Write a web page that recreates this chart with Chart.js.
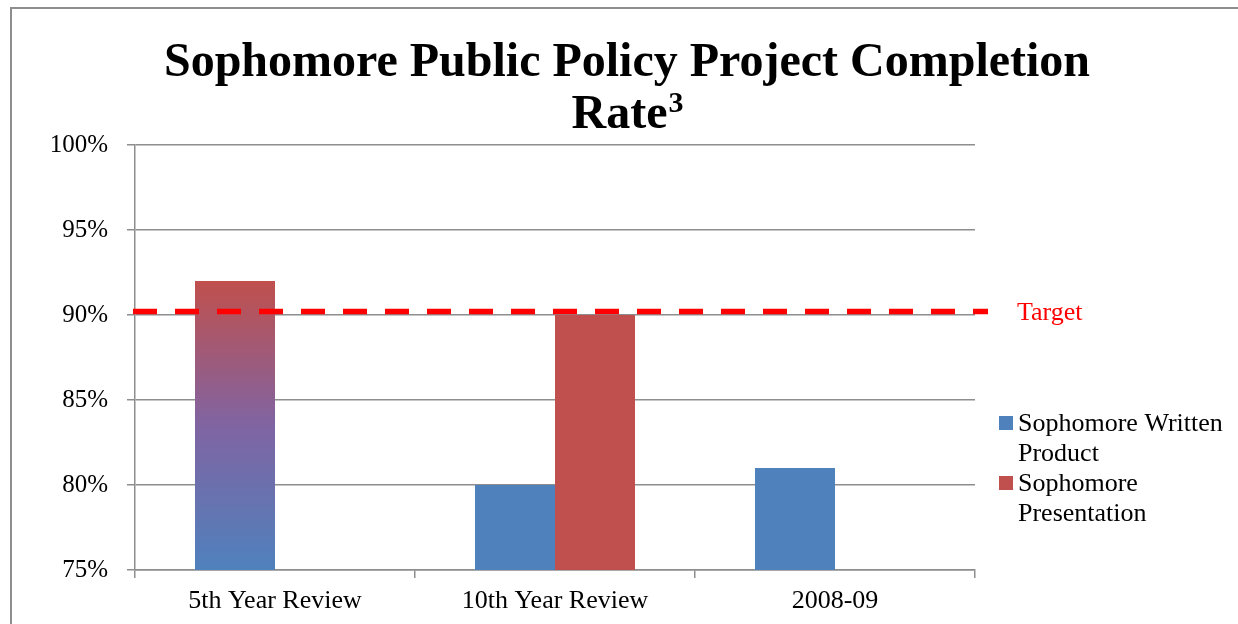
<!DOCTYPE html>
<html>
<head>
<meta charset="utf-8">
<title>Sophomore Public Policy Project Completion Rate</title>
<script src="https://cdn.jsdelivr.net/npm/chart.js@4.4.0/dist/chart.umd.min.js"></script>
<style>
  html, body { margin: 0; padding: 0; background: #ffffff; }
  #chart { display: block; }
</style>
</head>
<body>
<canvas id="chart" width="1238" height="624"></canvas>
<script>
// values
const categories = ['5th Year Review', '10th Year Review', '2008-09'];
const writtenProduct = [92, 80, 81];
const presentation = [null, 90, null];
const target = [90.2];
const seriesNames = ['Sophomore Written Product', 'Sophomore Presentation'];
const legendLines = [['Sophomore Written', 'Product'], ['Sophomore', 'Presentation']];

const BLUE = '#4f81bd';
const RED = '#c0504d';
const GRID = '#8e8e8e';
const FONT = "'Liberation Serif', 'Times New Roman', serif";

// first bar has a red -> purple -> blue fade
const barFill = (ctx) => {
  const chart = ctx.chart;
  if (ctx.dataIndex !== 0 || !chart.chartArea) return BLUE;
  const y = chart.scales.y;
  const top = y.getPixelForValue(writtenProduct[0]);
  const g = chart.ctx.createLinearGradient(0, top, 0, chart.chartArea.bottom);
  g.addColorStop(0, RED);
  g.addColorStop(0.5, '#8064a2');
  g.addColorStop(1, BLUE);
  return g;
};

const decorations = {
  id: 'decorations',
  afterDatasetsDraw(chart) {
    const { ctx, chartArea } = chart;
    const y = chart.scales.y.getPixelForValue(target[0]);
    ctx.save();
    ctx.strokeStyle = '#ff0000';
    ctx.lineWidth = 5.5;
    ctx.setLineDash([24, 18]);
    ctx.beginPath();
    ctx.moveTo(chartArea.left - 2, y);
    ctx.lineTo(chartArea.right + 13, y);
    ctx.stroke();
    ctx.setLineDash([]);
    ctx.fillStyle = '#ff0000';
    ctx.font = '26px ' + FONT;
    ctx.textBaseline = 'middle';
    ctx.textAlign = 'left';
    ctx.fillText('Target', chartArea.right + 42, y + 2);
    ctx.restore();
  },
  afterDraw(chart) {
    const { ctx } = chart;
    ctx.save();
    // frame (top and left edges only)
    ctx.fillStyle = GRID;
    ctx.fillRect(10, 7, 2, 617);
    ctx.fillRect(10, 7, 1228, 2);

    // title
    ctx.fillStyle = '#000000';
    ctx.textBaseline = 'alphabetic';
    ctx.textAlign = 'center';
    ctx.font = 'bold 48px ' + FONT;
    ctx.fillText('Sophomore Public Policy Project Completion', 627, 76);
    const w1 = ctx.measureText('Rate').width;
    ctx.font = 'bold 30px ' + FONT;
    const w2 = ctx.measureText('3').width;
    const x0 = 627 - (w1 + w2) / 2;
    ctx.textAlign = 'left';
    ctx.font = 'bold 48px ' + FONT;
    ctx.fillText('Rate', x0, 128);
    ctx.font = 'bold 30px ' + FONT;
    ctx.fillText('3', x0 + w1 + 1, 112);

    // legend
    const colors = [BLUE, RED];
    ctx.font = '26px ' + FONT;
    ctx.textBaseline = 'middle';
    let ly = 424;
    legendLines.forEach((lines, i) => {
      ctx.fillStyle = colors[i];
      ctx.fillRect(999, ly - 8, 14, 14);
      ctx.fillStyle = '#000000';
      lines.forEach((t) => {
        ctx.fillText(t, 1018, ly);
        ly += 30;
      });
    });
    ctx.restore();
  }
};

new Chart(document.getElementById('chart'), {
  type: 'bar',
  data: {
    labels: categories,
    datasets: [
      { label: seriesNames[0], data: writtenProduct, backgroundColor: barFill },
      { label: seriesNames[1], data: presentation, backgroundColor: RED }
    ]
  },
  options: {
    responsive: false,
    animation: false,
    layout: { padding: { top: 145, right: 263, bottom: 0, left: 0 } },
    datasets: { bar: { categoryPercentage: 160 / 280, barPercentage: 1.0 } },
    plugins: {
      legend: { display: false },
      title: { display: false },
      tooltip: { enabled: false }
    },
    scales: {
      x: {
        afterFit: (s) => { s.height = 54; },
        grid: { display: true, drawOnChartArea: false, drawTicks: true, tickLength: 8, color: GRID, lineWidth: 1.5, offset: true },
        border: { display: true, color: GRID, width: 1.5 },
        ticks: { color: '#000000', font: { family: FONT, size: 26 }, padding: 8 }
      },
      y: {
        min: 75,
        max: 100,
        afterFit: (s) => { s.width = 135; },
        grid: { color: GRID, lineWidth: 1.5, drawTicks: true, tickLength: 8, tickColor: GRID },
        border: { display: true, color: GRID, width: 1.5 },
        ticks: {
          stepSize: 5,
          color: '#000000',
          padding: 19,
          font: { family: FONT, size: 25 },
          callback: (v) => v + '%'
        }
      }
    }
  },
  plugins: [decorations]
});
</script>
</body>
</html>
